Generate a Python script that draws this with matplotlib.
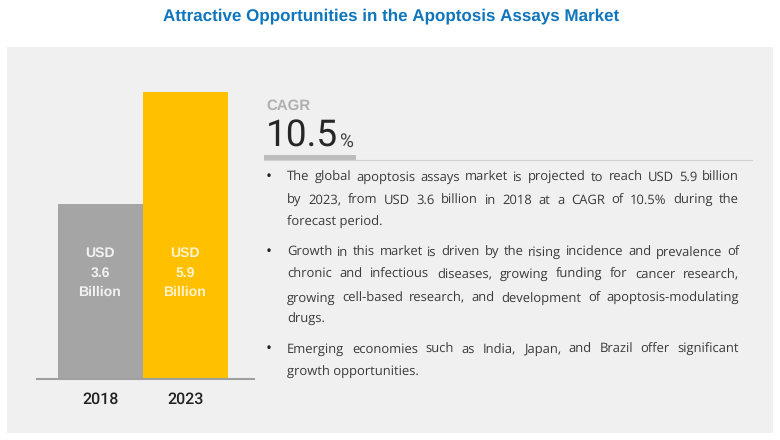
import matplotlib
matplotlib.use("Agg")
import matplotlib.pyplot as plt
from matplotlib.patches import Rectangle

plt.rcParams["text.hinting"] = "none"
plt.rcParams["text.hinting_factor"] = 1

W, H = 780, 440
TITLE = "Attractive Opportunities in the Apoptosis Assays Market"
years = ["2018", "2023"]
values = [3.6, 5.9]
bar_colors = ["#A5A5A5", "#FFC000"]
bar_labels = ["USD\n3.6\nBillion", "USD\n5.9\nBillion"]
cagr_label = "CAGR"
cagr_value = "10.5"
bullets = [
    ["The global apoptosis assays market is projected to reach USD 5.9 billion",
     "by 2023,  from USD 3.6 billion in 2018 at a CAGR of 10.5% during the",
     "forecast period."],
    ["Growth in this market is driven by the rising incidence and prevalence of",
     "chronic and infectious diseases, growing funding for cancer research,",
     "growing cell-based research, and development of apoptosis-modulating",
     "drugs."],
    ["Emerging economies such as India, Japan, and Brazil offer significant",
     "growth opportunities."],
]
line_ys = [[180.5, 204, 226], [256, 278, 301.5, 323], [353, 376]]
FONT = "Open Sans"
TXT = "#3A3A3A"

fig = plt.figure(figsize=(W / 100, H / 100), dpi=100, facecolor="white")
bg = fig.add_axes([0, 0, 1, 1])
bg.set_xlim(0, W); bg.set_ylim(H, 0); bg.axis("off")
bg.add_patch(Rectangle((7, 47), 766, 386, fc="#F0F0F0", ec="none"))

# Bar axes: spans x 37-254 px, y 92-379 px
ax = fig.add_axes([37 / W, 1 - 379 / H, 217 / W, 287 / H], facecolor="none")
ax.bar([0, 1], values, width=1, color=bar_colors)
ax.set_xlim(-0.75, 1.803)
ax.set_ylim(0, 5.9)
for s in ("left", "right", "top"):
    ax.spines[s].set_visible(False)
ax.spines["bottom"].set_color("#A0A0A0")
ax.spines["bottom"].set_linewidth(1.5)
ax.set_yticks([])
ax.set_xticks([0, 1], years, fontsize=11.5, color="#222222", fontfamily="Roboto", fontweight="medium")
ax.tick_params(axis="x", length=0, pad=9)
for i, lab in enumerate(bar_labels):
    ax.text(i - 0.01, 2.72, lab, ha="center", va="top", color="#F2F2F2" if i == 0 else "#FFF2CC",
            fontsize=10, fontfamily="Liberation Sans", fontweight="bold", linespacing=1.65)

bg.text(391, 16, TITLE, ha="center", va="center", fontsize=12.0, fontweight="bold",
        color="#0F75BC", fontfamily="Liberation Sans")

bg.text(266, 106, cagr_label, ha="left", va="center", fontsize=10.5, color="#B0B0B0",
        fontfamily="Liberation Sans", fontweight="bold")
bg.text(266, 147, cagr_value, ha="left", va="baseline", fontsize=26.5, color="#262626",
        fontfamily="Roboto")
bg.text(339.5, 147, "%", ha="left", va="baseline", fontsize=13.5, color="#404040", fontfamily="Roboto")
bg.plot([264, 752], [160, 160], color="#D0D0D0", lw=0.8)
bg.add_patch(Rectangle((264, 155.5), 92, 5, fc="#BDBDBD", ec="none"))

# Justified body text, placed word by word
fig.canvas.draw()
r = fig.canvas.get_renderer()
X0, X1, FS = 287, 739, 9.3
def width(s):
    tt = bg.text(0, 0, s, fontsize=FS, fontfamily=FONT)
    w = tt.get_window_extent(r).width
    tt.remove()
    return w
for para, ys in zip(bullets, line_ys):
    bg.text(266, ys[0], "•", ha="left", va="baseline", fontsize=FS + 2, color="#222222", fontfamily=FONT)
    for j, (line, y) in enumerate(zip(para, ys)):
        if j == len(para) - 1:
            bg.text(X0, y, line, ha="left", va="baseline", fontsize=FS, color=TXT, fontfamily=FONT)
            continue
        words = line.split()
        ws = [width(w) for w in words]
        gap = (X1 - X0 - sum(ws)) / (len(words) - 1)
        x = X0
        for w, wd in zip(words, ws):
            bg.text(x, y, w, ha="left", va="baseline", fontsize=FS, color=TXT, fontfamily=FONT)
            x += wd + gap

fig.savefig("out.png", dpi=100, facecolor="white")
